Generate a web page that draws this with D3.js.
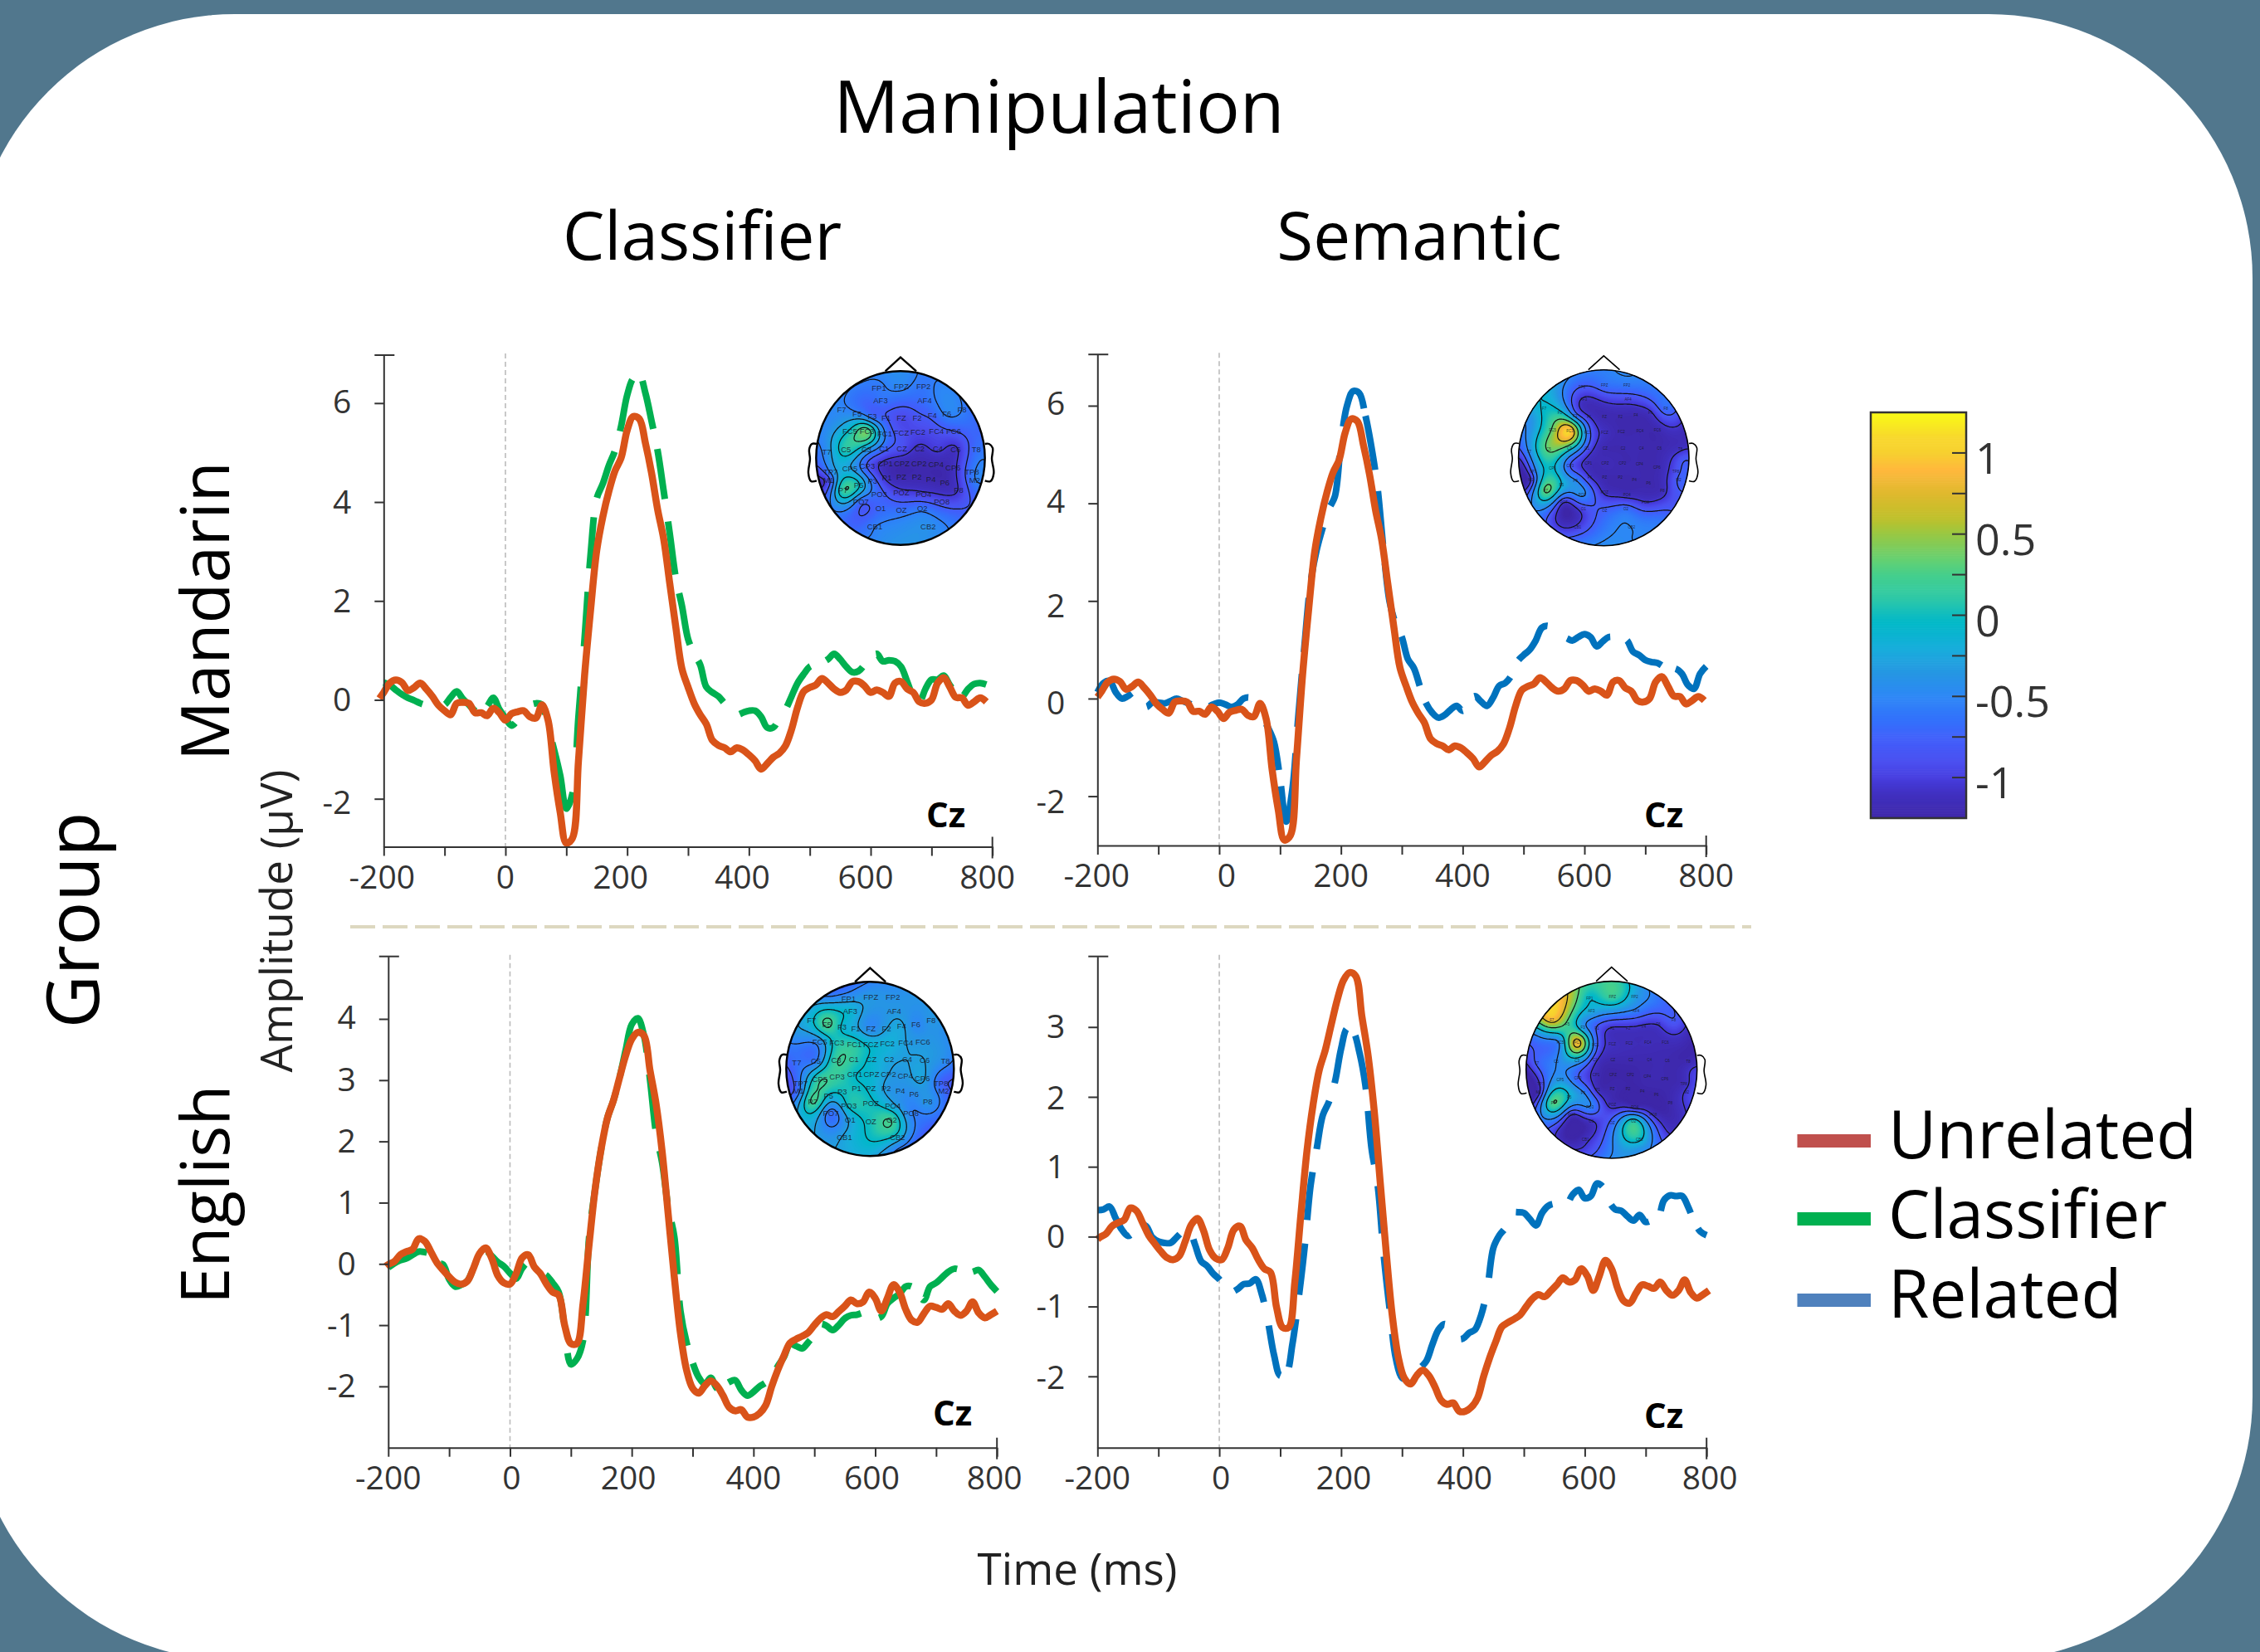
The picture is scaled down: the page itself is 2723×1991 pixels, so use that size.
<!DOCTYPE html>
<html><head><meta charset="utf-8">
<script src="https://cdn.jsdelivr.net/npm/d3@7/dist/d3.min.js"></script>
<style>html,body{margin:0;padding:0;background:#fff}svg{display:block}text{font-family:"Open Sans",sans-serif}</style>
</head><body><svg id="c" width="2723" height="1991"></svg>
<script>
// ---------- data (µV) ----------
const gridTimes = d3.range(-200, 801, 10);
const unrelatedMandarinTimes = [-207].concat(gridTimes);
const unrelatedEnglishTimes = [-204].concat(gridTimes);
const unrelatedMandarin = [.03,.15,.34,.40,.35,.19,.25,.34,.22,.07,-.11,-.22,-.30,-.07,-.05,-.07,-.26,-.26,-.32,-.17,-.26,-.41,-.28,-.24,-.22,-.34,-.37,-.10,-.41,-1.46,-2.28,-2.9,-2.8,-1.23,.49,1.83,3.02,3.70,4.22,4.63,4.89,5.45,5.73,5.68,5.19,4.59,3.85,3.25,2.35,1.46,.63,.26,-.07,-.30,-.49,-.82,-.92,-.97,-1.05,-.97,-1.01,-1.11,-1.23,-1.40,-1.29,-1.16,-1.08,-.93,-.60,-.15,.17,.25,.30,.43,.34,.22,.15,.20,.37,.37,.28,.15,.20,.15,.07,.34,.37,.22,.15,-.04,-.07,0,.34,.45,.26,.05,.04,-.11,-.04,.04,-.04];
const unrelatedEnglish = [-.04,-.01,.04,.15,.20,.24,.41,.37,.2,.02,-.10,-.21,-.30,-.33,-.28,-.07,.17,.26,.09,-.19,-.31,-.33,-.16,.1,.15,-.05,-.16,-.33,-.46,-.51,-1.01,-1.3,-1.3,-.65,.32,1.23,1.89,2.38,2.67,3.04,3.40,3.67,3.78,3.73,3.16,2.61,1.83,.80,-.22,-1.13,-1.73,-2.03,-2.11,-1.99,-1.91,-1.99,-2.15,-2.34,-2.40,-2.38,-2.50,-2.50,-2.44,-2.31,-2.00,-1.73,-1.50,-1.29,-1.23,-1.18,-1.12,-1.00,-.89,-.83,-.86,-.78,-.69,-.59,-.65,-.62,-.46,-.56,-.77,-.56,-.34,-.46,-.74,-.92,-.95,-.81,-.69,-.71,-.74,-.65,-.77,-.84,-.77,-.62,-.80,-.88,-.83,-.77];
const classifierMandarin = [.35,.30,.20,.11,.04,-.01,-.07,-.11,-.13,-.13,-.10,.05,.17,.02,-.10,-.22,-.26,-.13,.04,-.19,-.37,-.52,-.41,-.26,-.11,-.07,-.10,-.56,-1.01,-1.53,-2.20,-1.9,-.34,1.23,2.95,4.07,4.37,4.74,5.04,5.53,6.16,6.50,6.57,6.20,5.64,5.04,4.22,3.36,2.46,1.90,1.23,.93,.71,.26,.15,.07,-.07,-.19,-.30,-.26,-.22,-.22,-.34,-.56,-.56,-.37,-.20,.07,.34,.52,.67,.71,.75,.82,.93,.82,.67,.56,.58,.71,.86,.93,.78,.80,.78,.67,.37,.07,-.04,.22,.41,.41,.49,.30,.15,.07,.22,.32,.34,.31];
const relatedMandarin = [.13,.32,.36,.13,0,.05,.13,.02,-.17,-.08,-.08,-.10,-.05,0,-.05,-.10,-.14,-.15,-.17,-.12,-.08,-.12,-.17,-.12,0,.02,-.14,-.36,-.59,-.89,-1.65,-2.52,-1.88,-.36,1.07,2.36,3.04,3.50,3.88,4.14,5.24,6.0,6.30,6.26,5.81,5.16,4.33,3.04,1.98,1.53,1.26,.81,.62,.24,-.10,-.29,-.39,-.34,-.23,-.15,-.25,-.06,.05,-.06,-.15,.02,.26,.32,.47,.76,.89,1.0,1.19,1.45,1.49,1.38,1.26,1.24,1.19,1.26,1.32,1.26,1.07,1.17,1.26,1.26,1.26,1.19,.96,.89,.79,.75,.73,.66,.61,.61,.51,.28,.20,.51,.66];
const classifierEnglish = [-.06,.01,.06,.09,.15,.20,.19,.15,.02,-.01,-.25,-.37,-.34,-.28,-.07,.14,.21,.13,.03,-.04,-.15,-.24,-.07,.02,-.07,-.13,-.19,-.31,-.46,-1.07,-1.64,-1.55,-1.25,.44,1.23,1.89,2.38,2.67,3.04,3.49,3.91,4.01,3.73,3.01,2.13,1.65,.92,.44,-.77,-1.28,-1.61,-1.85,-1.96,-1.86,-2.03,-1.99,-1.93,-1.90,-2.06,-2.15,-2.09,-2.00,-1.94,-1.85,-1.67,-1.52,-1.31,-1.34,-1.38,-1.28,-1.16,-.98,-1.01,-1.08,-1.00,-.89,-.84,-.83,-.80,-.83,-.89,-.86,-.65,-.56,-.49,-.37,-.37,-.49,-.59,-.37,-.31,-.22,-.13,-.08,-.10,-.15,-.13,-.10,-.21,-.34,-.45];
const relatedEnglish = [.38,.39,.43,.26,.10,.01,.07,.18,.15,-.01,-.07,-.09,-.09,-.01,.07,.10,-.11,-.35,-.42,-.53,-.61,-.72,-.79,-.75,-.68,-.67,-.61,-.83,-1.22,-1.70,-1.99,-1.96,-1.54,-.90,-.16,.74,1.26,1.74,1.93,2.22,2.69,2.98,2.93,2.64,2.16,1.26,.74,-.27,-1.06,-1.75,-2.02,-2.04,-1.99,-1.88,-1.78,-1.54,-1.33,-1.25,-1.35,-1.46,-1.46,-1.38,-1.33,-1.12,-.75,-.16,.02,.13,.34,.35,.34,.25,.16,.34,.44,.47,.46,.46,.60,.67,.55,.58,.76,.71,.50,.39,.37,.29,.23,.31,.21,.23,.26,.52,.59,.58,.58,.42,.21,.07,.02];

// times (ms) where each dashed trace has a gap
const gapsClassifierMandarin = [[-136.4,-99],[-49,-29.5],[15.4,45.3],[65.5,76.7],[110.4,117],[123.8,129],[135.2,137.9],[145,150],[179,188],[207.6,224.8],[242.5,249.3],[261.7,267],[278.7,285],[302.6,316.1],[357.2,383.4],[443.2,461.9],[499.3,525.5],[585.3,606.3],[663.9,682.6],[731.2,750]];
const gapsRelatedMandarin = [[-144,-119.2],[-46.7,-16.8],[46.8,76.7],[97.7,101.4],[125.5,128.5],[135.8,139],[147,151],[170,182],[197.6,203.4],[237.5,240],[255.9,260.6],[268.8,272],[286.7,299],[328.8,338.5],[398.4,417.1],[476.9,490.3],[536.7,568.9],[639.2,667.6],[723.7,746.2]];
const gapsClassifierEnglish = [[-136.4,-114],[-61.6,-41.4],[24.4,58],[88,94.4],[120,124],[130,134],[150,156],[174,180],[224.6,228.8],[238.6,245.6],[258.4,265],[275,278],[291,300],[338.5,357.2],[417,437.2],[491.8,510.6],[574.1,604],[656.4,675.1],[731.2,757.4]];
const gapsRelatedEnglish = [[-146,-125.2],[-65.4,-42.9],[.4,24.4],[73,81],[99.2,114.1],[125.8,130.8],[140.6,144.1],[152.9,159.6],[180,189],[207.6,222.6],[240.6,244.1],[254,260],[266.8,270],[279.4,283.9],[301.1,331],[368.4,394.6],[434.3,442.4],[465.7,484.4],[544.2,574.1],[626.5,641.4],[701.3,723.7],[772.3,783.5]];

const columnTitles = ["Classifier","Semantic"];
const rowTitles = ["Mandarin","English"];
const legendLabels = ["Unrelated","Classifier","Related"];
const legendColors = ["#c0504d","#00b050","#4f81bd"];
const colorbarTicks = [1,.75,.5,.25,0,-.25,-.5,-.75,-1];
const colorbarLabels = [1,.5,0,-.5,-1];

// electrode montage (blank names = unlabeled edge/interpolation points)
const chanNames = ["FP1","FPZ","FP2","AF3","AF4","F7","F5","F3","F1","FZ","F2","F4","F6","F8","FC5","FC3","FC1","FCZ","FC2","FC4","FC6","T7","C5","C3","C1","CZ","C2","C4","C6","T8","TP7","CP5","CP3","CP1","CPZ","CP2","CP4","CP6","TP8","M1","M2","P7","P5","P3","P1","PZ","P2","P4","P6","P8","PO7","PO3","POZ","PO4","PO8","O1","OZ","O2","CB1","CB2","","","","","","","","","","","",""];
const chanPX = [297,378,458,303,462,162,218,273,323,378,435,490,542,597,192,254,318,378,438,505,567,108,178,252,316,380,444,510,574,649,122,192,255,320,380,442,503,565,633,115,643,167,224,274,326,378,434,485,535,585,232,298,378,458,524,303,378,454,282,475,378,230,525,105,650,82,665,175,575,378,280,470];
const chanPY = [142,138,138,187,187,220,235,246,250,250,250,243,235,220,298,300,307,306,303,300,298,373,366,364,362,362,362,362,364,366,447,433,425,415,415,415,420,430,447,475,475,513,493,478,467,465,465,474,486,513,555,528,520,528,555,579,585,579,643,643,92,125,125,260,260,400,400,620,620,690,680,680];

const topoClassifierMandarin = [-.6,-.5,-.62,-.62,-.65,-.5,-.52,-.7,-.8,-.95,-.85,-.75,-.5,-.55,-.02,.42,-.55,-.9,-.95,-.9,-.8,-.45,.12,-.3,-.72,-.9,-1.1,-1,-1.1,-.65,-.5,-.3,-.85,-1.12,-1.2,-1.2,-1.2,-1.12,-.6,-.95,-.55,.22,.02,-.65,-1.12,-1.2,-1.2,-1.2,-1.2,-1.05,-.75,-.7,-1,-1,-.9,-.7,-.65,-.6,-.55,-.42,-.45,-.55,-.52,-.5,-.7,-.65,-.55,-.7,-.65,-.4,-.52,-.42];
const topoSemanticMandarin = [-.8,-.65,-.6,-1.1,-.95,-.05,0,-.65,-1.05,-1.2,-1.2,-1.2,-1.1,-.65,.35,1.15,-.65,-1.1,-1.2,-1.2,-1.2,-.45,.38,0,-.85,-1.2,-1.2,-1.2,-1.2,-1.1,-.7,-.05,-.85,-1.15,-1.15,-1.2,-1.2,-1.2,-.9,-1.1,-.75,.45,-.1,-.45,-1.05,-1.2,-1.2,-1.2,-1.2,-1.15,-1.1,-.4,-1.1,-1.15,-1.05,-.95,-.75,-.65,-1,-.5,-.55,-.45,-.55,-.45,-1,-1,-.8,-.85,-.6,-.5,-.75,-.5];
const topoClassifierEnglish = [-.4,-.35,-.4,-.1,-.35,-.1,.3,-.1,-.25,-.5,-.3,-.25,-.5,-.35,-.45,.05,.1,-.1,-.15,-.3,-.35,-.65,-.6,.2,.1,-.1,-.25,-.3,-.3,-.45,-.55,.2,.15,-.05,-.1,-.3,-.35,-.25,-.75,-.65,-.7,.3,-.1,0,0,-.1,-.35,-.4,-.45,-.35,-.7,.02,0,-.25,-.55,-.25,.02,.22,-.25,-.15,-.5,-.65,-.4,-.35,-.45,-.8,-.65,-.3,-.75,-.15,-.25,-.5];
const topoSemanticEnglish = [-.1,.2,-.3,-.2,-.55,.9,.2,-.4,-.85,-1.1,-1.1,-1.1,-1.05,-.8,-.5,1,-.7,-1.1,-1.15,-1.15,-1.15,-.75,-.5,-.3,-1,-1.2,-1.2,-1.2,-1.2,-1.2,-1,-.35,-.8,-1.15,-1.25,-1.25,-1.2,-1.2,-1.15,-1.2,-1,.4,-.1,-.45,-1.15,-1.2,-1.25,-1.25,-1.25,-1.2,-1.1,-.45,-1.15,-1.2,-1.1,-1.1,-.7,.15,-1.1,-.02,.25,.6,-.55,-.35,-1.15,-1.15,-1,-1.05,-1.05,-.5,-1,-.4];

// colour map
const cmapValues = [-1.25,-1.1,-1,-.9,-.75,-.65,-.5,-.35,-.2,-.05,0,.1,.25,.35,.5,.6,.75,.9,1,1.1,1.25];
const cmapColors = ["#3d26a8","#4030c0","#463ddf","#4b50f0","#4060fb","#3370fb","#2d87f6","#2597e2","#18aedb","#00b8c8","#0fbcc0","#2cc8a8","#45cf8c","#66d070","#98c844","#bfc02a","#dfb92e","#ffb83c","#f7d030","#f8d82c","#f9fb15"];
const contourLevelsFine = [-1.05,-.8,-.55,-.3,-.05,.2,.45,.7,.95];
const contourLevelsCoarse = [-1.05,-.8,-.5,-.1,.3,.7];

// ---------- layout ----------
const panels = [
 {x:[462.3,1195.7],y:[1020.5,428],yd:[-2.97,6.97],yt:[-2,0,2,4,6],ly:[4,-1,-1,-1,-2],a:classifierMandarin,b:unrelatedMandarin,bt:unrelatedMandarinTimes,col:"#00b050",bShift:0,gaps:gapsClassifierMandarin,lx:[-2,0,-8,-8,-6,-6],cz:[1116,997],
  map:{c:[1085,552],r:[101.7,104.7],v:topoClassifierMandarin,fs:9.5,sw:2.4,cw:1.2,lv:contourLevelsFine}},
 {x:[1322.3,2055.7],y:[1019,427.2],yd:[-3.01,7.05],yt:[-2,0,2,4,6],ly:[6,5,5,-3,-3.5],a:relatedMandarin,b:unrelatedMandarin,bt:unrelatedMandarinTimes,col:"#0072bd",bShift:7,gaps:gapsRelatedMandarin,lx:[-1,9,0,0,0,0],cz:[1981,997],
  map:{c:[1932.3,551.7],r:[102.7,106],v:topoSemanticMandarin,fs:4.5,sw:1.6,cw:1.2,lv:contourLevelsCoarse}},
 {x:[467.8,1201.2],y:[1744.7,1152.7],yd:[-3.0,5.02],yt:[-2,-1,0,1,2,3,4],ly:[-1,-1,-1,-1,-1,-1,-3],a:classifierEnglish,b:unrelatedEnglish,bt:unrelatedEnglishTimes,col:"#00b050",bShift:0,gaps:gapsClassifierEnglish,lx:[0,2,-4,0,-4,-3],cz:[1124,1718],
  map:{c:[1048.3,1288.3],r:[101,105],v:topoClassifierEnglish,fs:9.5,sw:2.4,cw:1.2,lv:contourLevelsFine}},
 {x:[1322.3,2056.2],y:[1744.7,1152.7],yd:[-3.02,4.01],yt:[-2,-1,0,1,2,3],ly:[1,-1,-1,-1,0,-1],a:relatedEnglish,b:unrelatedEnglish,bt:unrelatedEnglishTimes,col:"#0072bd",bShift:4,gaps:gapsRelatedEnglish,lx:[0,2,3,2,5,4],cz:[1981,1721],
  map:{c:[1941.7,1289.3],r:[103,106.7],v:topoSemanticEnglish,fs:4.5,sw:1.6,cw:1.2,lv:contourLevelsCoarse}}
];
const tcx=375,tcy=396,trx=305,try_=314; // montage template frame
const nx=chanPX.map(v=>(v-tcx)/trx), ny=chanPY.map(v=>(v-tcy)/try_);

const svg=d3.select("#c");
svg.append("rect").attr("width",2723).attr("height",1991).attr("fill","#51778d");
svg.append("rect").attr("x",-35).attr("y",17).attr("width",2749).attr("height",1984).attr("rx",318).attr("fill","#fff");

const color=d3.scaleLinear().domain(cmapValues).range(cmapColors).clamp(true);

function txt(s,x,y,fs,o={}){
  const t=svg.append("text").text(s).attr("x",x).attr("y",y).attr("font-size",fs).attr("fill",o.fill||"#000").attr("text-anchor",o.anchor||"middle");
  if(o.rot!==undefined) t.attr("transform",`rotate(${o.rot},${x},${y})`);
  if(o.weight) t.attr("font-weight",o.weight);
  return t;
}
txt("Manipulation",1276,160,88);
txt(columnTitles[0],846,313,80);
txt(columnTitles[1],1710,313,80);
txt(rowTitles[0],276,917,80,{rot:-90,anchor:"start"});
txt(rowTitles[1],276,1572,80,{rot:-90,anchor:"start"});
txt("Group",119,1109,88,{rot:-90});
txt("Amplitude (μV)",352,1110,53,{rot:-90,fill:"#222"});
txt("Time (ms)",1298,1910,53,{fill:"#222"});

svg.append("line").attr("x1",422).attr("x2",2110).attr("y1",1117).attr("y2",1117).attr("stroke","#ddd8c0").attr("stroke-width",4).attr("stroke-dasharray","30 9");

// biharmonic spline solve
function solve(A,b){
  const n=b.length;A=A.map(r=>r.slice());b=b.slice();
  for(let i=0;i<n;i++){
    let p=i;for(let k=i+1;k<n;k++)if(Math.abs(A[k][i])>Math.abs(A[p][i]))p=k;
    [A[i],A[p]]=[A[p],A[i]];[b[i],b[p]]=[b[p],b[i]];
    for(let k=i+1;k<n;k++){const f=A[k][i]/A[i][i];if(!f)continue;for(let j=i;j<n;j++)A[k][j]-=f*A[i][j];b[k]-=f*b[i];}
  }
  const x=new Array(n).fill(0);
  for(let i=n-1;i>=0;i--){let s=b[i];for(let j=i+1;j<n;j++)s-=A[i][j]*x[j];x[i]=s/A[i][i];}
  return x;
}
function boxBlur(a,N,r,passes){
  let src=Float64Array.from(a),dst=new Float64Array(N*N);
  for(let p=0;p<passes;p++){
    for(let j=0;j<N;j++)for(let i=0;i<N;i++){let s=0,c=0;for(let k=-r;k<=r;k++){const q=i+k;if(q>=0&&q<N){s+=src[j*N+q];c++;}}dst[j*N+i]=s/c;}
    [src,dst]=[dst,src];
    for(let j=0;j<N;j++)for(let i=0;i<N;i++){let s=0,c=0;for(let k=-r;k<=r;k++){const q=j+k;if(q>=0&&q<N){s+=src[q*N+i];c++;}}dst[j*N+i]=s/c;}
    [src,dst]=[dst,src];
  }
  return src;
}
const green=r=>r<1e-9?0:r*r*(Math.log(r)-1);
const G=nx.map((_,i)=>nx.map((_,j)=>green(Math.hypot(nx[i]-nx[j],ny[i]-ny[j]))));
const earL=[[72,345],[55,345],[45,365],[48,400],[42,450],[52,480],[72,478]];
const earR=[[680,345],[695,345],[708,360],[705,400],[712,450],[700,480],[680,478]];

function drawMap(m,idx){
  const N=170,ext=1.04,wts=solve(G,m.v);let grid=new Float64Array(N*N);
  for(let j=0;j<N;j++)for(let i=0;i<N;i++){
    const px=((i+.5)/N-.5)*2*ext,py=((j+.5)/N-.5)*2*ext;let s=0;
    for(let k=0;k<wts.length;k++)s+=wts[k]*green(Math.hypot(px-nx[k],py-ny[k]));
    grid[j*N+i]=Math.max(-1.3,Math.min(1.3,s));
  }
  grid=boxBlur(grid,N,2,3);
  const g=svg.append("g");
  const id="head"+idx;
  g.append("clipPath").attr("id",id).append("ellipse").attr("cx",m.c[0]).attr("cy",m.c[1]).attr("rx",m.r[0]).attr("ry",m.r[1]);
  const path=d3.geoPath(d3.geoTransform({point(x,y){this.stream.point(m.c[0]+(x/N-.5)*2*ext*m.r[0],m.c[1]+(y/N-.5)*2*ext*m.r[1]);}}));
  const body=g.append("g").attr("clip-path",`url(#${id})`);
  const levels=d3.range(-1.3,1.3,.02);
  const cs=d3.contours().size([N,N]).thresholds(levels)(Array.from(grid));
  body.selectAll("path.f").data(cs).join("path").attr("d",path).attr("fill",d=>color(d.value+.01));
  const ls=d3.contours().size([N,N]).thresholds(m.lv)(Array.from(grid));
  body.selectAll("path.l").data(ls).join("path").attr("class","l").attr("d",path).attr("fill","none").attr("stroke","#111").attr("stroke-width",m.cw);
  chanNames.forEach((n,i)=>{ if(!n) return;
    g.append("text").text(n).attr("x",m.c[0]+nx[i]*m.r[0]).attr("y",m.c[1]+ny[i]*m.r[1]).attr("dy",".35em").attr("text-anchor","middle")
     .attr("font-size",m.fs).style("font-family","'Liberation Sans',sans-serif").attr("fill","#1a1a2a").attr("fill-opacity",.85);
  });
  g.append("ellipse").attr("cx",m.c[0]).attr("cy",m.c[1]).attr("rx",m.r[0]).attr("ry",m.r[1]).attr("fill","none").attr("stroke","#000").attr("stroke-width",m.sw);
  const tx=(x)=>m.c[0]+(x-tcx)/trx*m.r[0],ty=(y)=>m.c[1]+(y-tcy)/try_*m.r[1];
  g.append("path").attr("d",d3.line()([[tx(320),ty(82)],[tx(375),ty(32)],[tx(432),ty(82)]])).attr("fill","none").attr("stroke","#000").attr("stroke-width",m.sw);
  const ear=d3.line().x(d=>tx(d[0])).y(d=>ty(d[1])).curve(d3.curveCatmullRom.alpha(.5));
  [earL,earR].forEach(e=>g.append("path").attr("d",ear(e)).attr("fill","none").attr("stroke","#000").attr("stroke-width",m.sw));
}

panels.forEach((p,idx)=>{
  const x=d3.scaleLinear().domain([-200,800]).range(p.x);
  const y=d3.scaleLinear().domain(p.yd).range(p.y);
  const g=svg.append("g");
  g.append("line").attr("x1",x(0)).attr("x2",x(0)).attr("y1",p.y[1]-2).attr("y2",p.y[0]).attr("stroke","#bbb").attr("stroke-width",1.6).attr("stroke-dasharray","6 4");
  const lineA=d3.line().x((d,i)=>x(gridTimes[i])).y(d=>y(d)).curve(d3.curveCatmullRom.alpha(.5));
  const dashed=g.append("path").attr("d",lineA(p.a)).attr("fill","none").attr("stroke",p.col).attr("stroke-width",8);
  // turn the gap times into a dash pattern along the curve
  const node=dashed.node(),L=node.getTotalLength();
  const lenAt=t=>{const tx=x(t);let lo=0,hi=L;for(let i=0;i<30;i++){const m=(lo+hi)/2;if(node.getPointAtLength(m).x<tx)lo=m;else hi=m;}return lo;};
  const dashes=[];let pos=0;
  p.gaps.forEach(([a,b])=>{const la=lenAt(a),lb=lenAt(b);dashes.push(Math.max(.1,la-pos),Math.max(.1,lb-la));pos=lb;});
  dashes.push(L-pos+10,10);
  dashed.attr("stroke-dasharray",dashes.join(" "));
  const lineB=d3.line().x((d,i)=>x(p.bt[i]+p.bShift)).y(d=>y(d)).curve(d3.curveCatmullRom.alpha(.5));
  g.append("path").attr("d",lineB(p.b)).attr("fill","none").attr("stroke","#d95319").attr("stroke-width",8.5).attr("stroke-linejoin","round");
  const ax=g.append("g").attr("transform",`translate(0,${p.y[0]})`)
    .call(d3.axisBottom(x).tickValues(d3.range(-200,801,100)).tickSize(11).tickSizeOuter(0).tickPadding(6).tickFormat(()=>""));
  ax.select(".domain").attr("stroke","#333").attr("stroke-width",2);
  ax.selectAll(".tick line").attr("stroke","#333").attr("stroke-width",2);
  const ay=g.append("g").attr("transform",`translate(${p.x[0]},0)`)
    .call(d3.axisLeft(y).tickValues(p.yt).tickSize(11).tickSizeOuter(0).tickPadding(28).tickFormat(d=>d));
  ay.select(".domain").attr("stroke","#333").attr("stroke-width",2);
  ay.selectAll(".tick line").attr("stroke","#333").attr("stroke-width",2);
  ay.selectAll(".tick text").attr("font-size",39).attr("fill","#333").attr("dy",".36em").attr("y",(d,i)=>p.ly[i]).style("font-family","'Open Sans',sans-serif");
  g.append("line").attr("x1",p.x[0]-11).attr("x2",p.x[0]+13).attr("y1",p.y[1]).attr("y2",p.y[1]).attr("stroke","#333").attr("stroke-width",2);
  g.append("line").attr("x1",p.x[1]).attr("x2",p.x[1]).attr("y1",p.y[0]-12).attr("y2",p.y[0]+14).attr("stroke","#333").attr("stroke-width",2);
  [-200,0,200,400,600,800].forEach((t,i)=>{
    g.append("text").text(t).attr("x",x(t)+p.lx[i]).attr("y",p.y[0]+50).attr("text-anchor","middle").attr("font-size",39).attr("fill","#333");
  });
  g.append("text").text("Cz").attr("x",p.cz[0]).attr("y",p.cz[1]).attr("font-size",42).attr("font-weight",700).attr("fill","#000");
  drawMap(p.map,idx);
});

// colour bar
const cbx=2254,cbw=115,cby=d3.scaleLinear().domain([-1.25,1.25]).range([986,497]);
const cb=svg.append("g");
const slices=d3.range(-1.25,1.25,.01);
cb.selectAll("rect").data(slices).join("rect").attr("x",cbx).attr("width",cbw).attr("y",d=>cby(d+.01)).attr("height",d=>cby(d)-cby(d+.01)+.6).attr("fill",d=>color(d+.005));
cb.append("rect").attr("x",cbx).attr("y",497).attr("width",cbw).attr("height",489).attr("fill","none").attr("stroke","#333").attr("stroke-width",2.5);
colorbarTicks.forEach(v=>cb.append("line").attr("x1",cbx+cbw-17).attr("x2",cbx+cbw).attr("y1",cby(v)).attr("y2",cby(v)).attr("stroke","#333").attr("stroke-width",2));
colorbarLabels.forEach(v=>txt(v,2380,cby(v)+25,52,{anchor:"start",fill:"#333"}));

// legend
const legY=[1375,1469,1567],txtY=[1396,1492,1588];
legendLabels.forEach((l,i)=>{
  svg.append("rect").attr("x",2165.5).attr("y",legY[i]-8).attr("width",88.5).attr("height",16).attr("fill",legendColors[i]);
  txt(l,2275,txtY[i],80,{anchor:"start"});
});
</script></body></html>
